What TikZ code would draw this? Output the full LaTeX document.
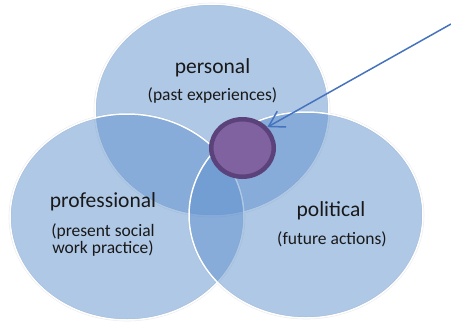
\documentclass[tikz,border=0pt]{standalone}
\usepackage{fontspec}
\setmainfont{Carlito}
\usetikzlibrary{arrows.meta,shapes.geometric}
\definecolor{vennblue}{RGB}{95,145,205}
\definecolor{ringfill}{RGB}{128,98,160}
\definecolor{ringedge}{RGB}{92,66,122}
\definecolor{arrowblue}{RGB}{70,115,190}
\definecolor{txt}{RGB}{25,25,25}
\begin{document}
\begin{tikzpicture}[x=1pt,y=-1pt,
  venn/.style={fill=vennblue, fill opacity=0.5, draw=white, line width=1.5pt},
  halo/.style={draw=black!8, line width=2.6pt},
  mainlabel/.style={font=\fontsize{21.5}{25}\selectfont, text=txt, inner sep=0pt},
  sublabel/.style={font=\fontsize{17.5}{17}\selectfont, text=txt, align=center, inner sep=0pt}]
\useasboundingbox (0,0) rectangle (451,322);
% faint halo
\path[halo] (212,110) ellipse [x radius=117pt, y radius=106pt];
\path[halo] (127,217) ellipse [x radius=117pt, y radius=103pt];
\path[halo] (306,215) ellipse [x radius=117pt, y radius=103pt];
% circles
\path[venn] (212,110) ellipse [x radius=117pt, y radius=106pt];
\path[venn] (127,217) ellipse [x radius=117pt, y radius=103pt];
\path[venn] (306,215) ellipse [x radius=117pt, y radius=103pt];
% core
\node[ellipse, draw=ringedge, fill=ringfill, line width=4.5pt,
      minimum width=62.5pt, minimum height=57.5pt, inner sep=0pt] (core) at (242.5,148) {};
% labels
\node[mainlabel] (personal) at (212.5,68) {personal};
\node[sublabel] (past) at (212.5,96) {(past experiences)};
\node[mainlabel] (prof) at (103,202) {professional};
\node[sublabel] (present) at (103,240) {(present social\\work practice)};
\node[mainlabel] (pol) at (331,211) {political};
\node[sublabel] (future) at (332,239) {(future actions)};
% arrow
\coordinate (src) at (451,24);
\draw[arrowblue, line width=1.5pt, -{Straight Barb[length=15pt,width=18pt]}] (src) -- (core.40);
\end{tikzpicture}
\end{document}
